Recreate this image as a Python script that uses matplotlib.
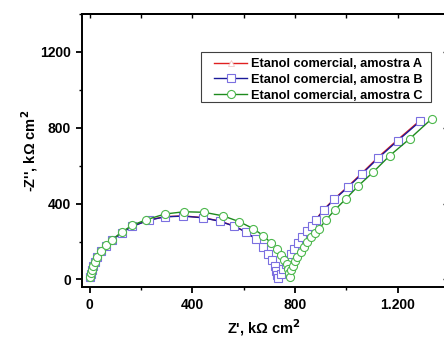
import matplotlib
matplotlib.use("Agg")
import matplotlib.pyplot as plt
from matplotlib.ticker import FixedFormatter, FixedLocator
from matplotlib.patches import Rectangle

plt.rcParams['font.family'] = ['Liberation Sans', 'DejaVu Sans']
plt.rcParams['font.weight'] = 'bold'

labels = ["Etanol comercial, amostra A", "Etanol comercial, amostra B", "Etanol comercial, amostra C"]

# Sample B (blue squares)
b_x = [3, 5, 8, 13, 20, 29, 43, 62, 88, 124, 166, 230, 292, 364, 441, 506, 562, 610, 647, 675, 696, 710,
       720, 727, 731, 734, 747, 753, 763, 772, 783, 796, 811, 828, 846, 867, 882, 911, 953, 1005, 1060, 1124,
       1200, 1288]
b_y = [13, 31, 48, 69, 90, 118, 148, 177, 207, 245, 280, 312, 330, 334, 325, 307, 281, 249, 212, 172, 135, 100,
       70, 45, 25, 8, 26, 53, 79, 105, 132, 161, 193, 224, 254, 284, 314, 365, 422, 485, 556, 640,
       732, 835]

# Sample A (red, nearly coincident with B)
a_x = [3, 5, 8, 13, 20, 29, 43, 62, 88, 124, 166, 230, 292, 364, 441, 506, 562, 610, 647, 675, 696, 710,
       720, 727, 731, 734, 747, 753, 763, 772, 783, 796, 811, 828, 846, 867, 882, 911, 953, 1005, 1060, 1124,
       1200, 1288]
a_y = [13, 31, 48, 69, 91, 119, 149, 178, 208, 246, 281, 313, 331, 335, 326, 308, 282, 250, 213, 173, 136, 101,
       71, 46, 26, 9, 27, 54, 80, 106, 133, 163, 195, 226, 256, 287, 317, 368, 425, 489, 560, 645,
       737, 840]

# Sample C (green circles)
c_x = [3, 5, 8, 13, 20, 29, 43, 62, 88, 124, 166, 221, 293, 368, 446, 520, 582, 637, 676, 705, 728, 745,
       758, 767, 774, 777, 779, 785, 792, 801, 809, 822, 835, 848, 863, 878, 894, 922, 956, 999, 1046,
       1105, 1169, 1246, 1333]
c_y = [14, 32, 49, 70, 91, 119, 149, 179, 210, 249, 286, 315, 345, 357, 354, 335, 305, 268, 231, 194, 161, 131,
       105, 79, 56, 35, 14, 49, 70, 95, 119, 144, 170, 196, 223, 245, 267, 316, 368, 426, 493,
       567, 653, 741, 848]

W, H = 444, 338
fig = plt.figure(figsize=(W/100, H/100), dpi=100)
ax = fig.add_axes([82/W, 1-287/H, (446.5-82)/W, (287-14)/H])

ax.plot(a_x, a_y, color='#e02020', lw=1.0, marker='^', ms=4, mfc='white', mec='#f4c8c8', mew=0.6,
        label=labels[0], zorder=2)
ax.plot(b_x, b_y, color='#1a1a9a', lw=1.0, marker='s', ms=5.2, mfc='white', mec='#7b6fe0', mew=0.8,
        label=labels[1], zorder=3)
ax.plot(c_x, c_y, color='#1e8a1e', lw=1.0, marker='o', ms=5.8, mfc='white', mec='#4cb84c', mew=0.8,
        label=labels[2], zorder=4)

ax.set_xlim(-30, 1390)
ax.set_ylim(-40, 1400)

ax.xaxis.set_major_locator(FixedLocator([0, 400, 800, 1200]))
ax.xaxis.set_major_formatter(FixedFormatter(['0', '400', '800', '1.200']))
ax.xaxis.set_minor_locator(FixedLocator([200, 600, 1000]))
ax.yaxis.set_major_locator(FixedLocator([0, 400, 800, 1200]))
ax.yaxis.set_minor_locator(FixedLocator([200, 600, 1000, 1400]))

ax.tick_params(which='major', direction='out', length=4, width=1.3, labelsize=10, pad=4)
ax.tick_params(which='minor', direction='out', length=2.5, width=1.0)
ax.tick_params(top=False, right=False)
for lbl in ax.get_xticklabels() + ax.get_yticklabels():
    lbl.set_fontweight('bold')

for s in ax.spines.values():
    s.set_linewidth(1.4)

# top and right inward ticks
axt = ax.secondary_xaxis('top')
axt.xaxis.set_major_locator(FixedLocator([0, 200, 400, 600, 800, 1000, 1200]))
axt.tick_params(direction='in', length=3, width=1.0, labeltop=False)
axt.spines['top'].set_linewidth(1.4)
axr = ax.secondary_yaxis('right')
axr.yaxis.set_major_locator(FixedLocator([0, 400, 800, 1200]))
axr.tick_params(direction='in', length=3, width=1.0, labelright=False)
axr.spines['right'].set_linewidth(1.4)

ax.set_xlabel("Z', k\u03a9 cm$^{\\mathbf{2}}$", fontsize=10.5, fontweight='bold', labelpad=4)
ax.set_ylabel("-Z'', k\u03a9 cm$^{\\mathbf{2}}$", fontsize=10.5, fontweight='bold', labelpad=0)

# legend without frame; frame drawn separately to match reference padding
leg = fig.legend(loc='upper left', bbox_to_anchor=(214/W, 1-58/H), fontsize=9.2,
                 frameon=False, handlelength=2.6, borderpad=0.0, labelspacing=0.3,
                 handletextpad=0.3, borderaxespad=0)
for t in leg.get_texts():
    t.set_fontweight('bold')
frame = Rectangle((201/W, 1-102/H), (431-201)/W, (102-52)/H, transform=fig.transFigure,
                  fill=True, facecolor='white', edgecolor='#404040', linewidth=0.8, zorder=5)
fig.add_artist(frame)
leg.set_zorder(6)

fig.savefig('out.png', dpi=100)
